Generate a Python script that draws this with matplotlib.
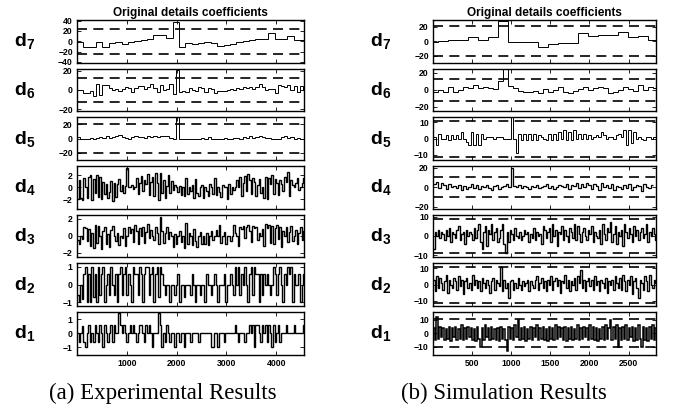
import numpy as np
import matplotlib
matplotlib.use('Agg')
import matplotlib.pyplot as plt

plt.rcParams['font.family'] = ['Liberation Sans', 'DejaVu Sans']
plt.rcParams['font.weight'] = 'bold'
plt.rcParams['mathtext.fontset'] = 'custom'
plt.rcParams['mathtext.bf'] = 'Liberation Sans:bold'
plt.rcParams['mathtext.rm'] = 'Liberation Sans:bold'

# ---- (a) Experimental results: detail coefficients d7 ... d1 ----
exp_d7 = [-2, -12, -12, -1, -12, -3, -2, -5, -1, 0, 2, 4, 12, 12, 7, 38,
          -12, -3, -6, -4, -2, -3, -10, -7, -5, -2, 1, 3, 4, 5, 15, 5, 4, 10, 3, 2]
exp_d6 = [0, 0, -3, -3, -1, -6, 6, -5, 5, 5, 2, 0, 1, -1, 1, 3, 2, -2, 2, 4, 4, 1, 3, 6,
          2, -2, 5, 0, 1, 6, -4, 21, -2, -1, -2, 2, 0, -1, 3, 2, -2, 2, 1, -3, -1, -1, -1, 0,
          1, 0, 2, 1, 3, 2, 3, 1, 3, 6, 3, 0, 1, 1, -3, 5, 4, 3, 5, 0, 4, -2, 4, 0]
exp_d5 = [2, 0, 0, -1, 1, 0, 1, 2, 1, 3, 1, 2, 3, 5, 2, 1, 0, 2, 3, 2, 2, 1, 3, 2,
          3, 2, 4, 3, 4, 1, 0, 30, -1, 0, -1, 0, 0, -1, 0, 1, 0, 2, 0, -1, 0, 0, 1, 0,
          -1, 1, 1, 0, 2, 1, 3, 1, 2, 3, 2, 1, 1, 0, 0, 0, 2, 3, 1, 2, 0, 1, 0, 0]
exp_d4 = [-2.0, 1.2, -1.8, -2.1, 1.6, 0, -1.9, 1.8, 2.0, -2.2, 1.4, -1.0, 2.1, -1.6, 1.8, -2.0, 0.9, -1.2, 0.6, -1.9, -0.8, 1.1, -2.3, 0.7,
          -1.7, 0.5, 1.4, -0.6, 0.3, -1.0, 0.2, 3.2, 0, 0, 0.4, -0.3, 0, 1.5, -1.1, 0.8, 1.9, -0.7, 1.3, 0.6, 2.2, -1.3, 0.9, 1.8,
          -1.5, 2.5, 0.7, -2.2, 2.4, -0.9, 1.3, -1.8, 0.2, 2.0, -1.0, 1.1, -0.5, 0.3, 0, -0.8, 0.2, -1.3, 0, -1.5, 1.6, -1.2, 0, -0.6,
          0.4, -1.8, 1.4, -1.0, -1.5, 0, 0.3, -1.9, 0, -0.7, -1.4, 0.5, 0, -1.1, 1.6, -1.3, 0, -0.8, -1.6, 0.4, 0, 0, -2.0, 0.6,
          -1.2, 0, -0.5, 0, 1.3, 0, 1.7, -1.4, 0.8, 1.9, -0.6, 2.3, 1.2, -1.1, 1.6, 0.9, -1.5, 0.3, 1.4, -0.9, 0, -1.8, 1.7, -2.0,
          1.5, 0.6, 2.0, -1.1, 1.4, 0.8, -1.3, 1.2, 0.5, -0.6, 1.7, 0.9, 2.6, -1.4, 1.3, 0.4, 0, 0.7, 1.6, -0.5, 0, 0.8, 1.5, 0.2]
exp_d3 = [-0.5, -1.0, 0, -0.4, 1.1, 0.9, -0.6, 0.8, -1.2, 0.3, -1.4, 1.3, -0.8, 1.2, 0, -1.5, 0.6, 1.1, -0.9, 0.2, -1.3, 0.7, 1.2, 0,
          -0.6, 0.4, -1.1, 0, -0.3, 0.9, -1.2, 0, 1.1, 0.4, 0.8, -0.7, 1.3, 0.6, -1.0, 0.9, 0, 1.1, -0.8, 0.5, 1.4, -0.2, 0.7, 0,
          -0.5, 1.0, 0.4, -1.0, 2.2, 0.6, -0.8, 0.3, 1.0, -0.4, 0.5, 0, -1.3, 0.2, -1.0, 0, 0.6, -0.7, 0, -1.4, 1.5, -1.0, 0.4, 0,
          -1.1, 0.8, -0.6, -1.3, 0, 0.5, -1.0, 0, -0.9, 0.3, -1.1, 0, 0.6, -0.5, 0, 0.7, 0, 1.3, -0.8, 0, 0.5, -1.0, 0, 0, -0.6, 0,
          1.3, 0.4, 0, -1.2, 1.1, 0.8, 1.2, -0.3, 1.0, 1.3, 0.6, -0.7, 1.2, 0.9, 1.1, -0.5, 0.4, 0, 0.8, -1.2, 1.4, 0.9, 1.3, -0.8,
          1.2, -1.0, 0.9, 1.3, -0.4, 1.1, -1.3, 0.6, 0, 1.0, -0.7, 0.5, 1.2, -0.6, 0, 0.7, -0.9, 0.3, 1.0, -0.5, 0.6, 0, -0.4, 0]
exp_d2 = [-0.6, -1, 0, -0.8, 0.6, 1, -1, 0.6, -1, 1, -0.7, 0.6, -1, 1, -0.6, 0.6, 1, -1, 0, 0.6, -0.6, 1, 0, -0.6,
          0.6, -1, 0.6, 1, -0.6, 0.6, 1, -0.6, 0.6, 0, -1, 1, 0.6, 0.6, -0.6, 1, 0.6, -1, 0.6, 1, 1, -0.6, 0.6, 1,
          -1, 0.6, 1, -0.7, 1, 0.6, 0, -0.6, 0, 0, -1, 0, 0, -0.6, 0, 0.6, -1, 0, 0, -0.7, 0, 0, 0, -0.6,
          0.6, 0, -1, 0, 0, -0.6, 0, 0, -1, 0.6, 0, 0, -0.6, 0, 0.6, 0, -1, 0, 0, 0, 0.6, -1, 0, 0,
          0.6, 0, -0.6, 1, 0, 1, -0.6, 0.6, 0, 1, 0, -1, 0.6, 1, -0.6, 1, 0.6, 0.6, -1, 0.6, -0.6, 0.6, 0, 0.6,
          0, -0.6, 0, 1, 0.6, -0.6, 0.6, 1, 0, -1, 0.6, 0, 1, 0.6, 1, -1, 0.6, 0, 0, 0.6, -1, 0, 0.6, 0]
exp_d1 = [0, -0.6, 0, 0.5, -0.6, -1, 0, 0.6, -0.6, 0, -0.6, 0.6, 0, -0.6, 0.6, 0, -1, 0.6, 0, -0.6, 0, 0.6, -0.6, 0.6,
          0, 0, 1.4, 0.6, 0, 0.6, 0, -0.6, 0, 0.6, 0, 0.6, 0, -0.6, 0, 0.6, 0.6, 0, -0.6, 0.6, 0, 0.6, 0, -1,
          0, 0, 0, 1.4, 0.6, -1, 0, -0.6, 0.6, 0, -0.6, 0, 0, -1, 0, 0, -0.6, 0, 0, -1, 0, 0, 0, -0.6,
          0, 0, 0, 0, -0.6, 0, 0, 0, 0, 0, 0, 0, -1, -1, 0, 0, -1, 0, 0, 0, -0.6, 0, 0, 0,
          0, 0, 0, 0.6, 0, -0.6, 0, 0, 0, -0.6, 0, 0, 0.6, 0, 0.6, -1, 0.6, 0.6, 0, -0.6, 0.6, 0, 0.6, -0.6,
          0.6, 0, -1, 0.6, -0.6, 0, 0.6, -0.6, 0, 0, 0, 0.6, 0, 0, 0, 0, 0.6, 0, 0, 0, 0, 0, 0.6, 0]

# ---- (b) Simulation results ----
sim_d7 = [-1, 1, 2, 2, 6, 2, 6, 27, -1, -1, -1, -8, -4, -2, -2, 11, 7, 8, 8, 12, 6, 7, 2]
sim_d6 = [-3, 0, -2, 3, -3, 0, 3, 2, 6, 2, 3, 2, 1, 10, 27, 5,
          2, -1, -2, -3, -1, -4, 1, -3, 0, 4, -3, -4, -1, 1, 3, 0, 2, 3, 2, -4, -2, 0, 4, 1, -1, 6, 0, 3, 2]
sim_d5 = [1, -4, 3, 0, 0, 2, -1, 2, 0, 2, 0, 4, 0, -2, -4, 4, -4, 3, -4, 3, 0, 1, 1, 1, 0, 1, 1, 1, 0, 0,
          0, 13, 0, -9, 3, -1, 3, -1, 3, -1, 3, -1, 2, 1, 0, -1, 3, -1, 3, -1, 4, 0, 5, -1, 4, -1, 5, 0, 3, 0,
          3, 0, 2, 0, 1, 2, 1, 4, 2, 0, 1, 1, 0, 2, 3, 1, 5, -4, 5, -3, 4, 0, 1, 0, -1, 1, 1, 0, 1]
sim_d4 = [3, 5, -1, 4, 2, -2, 3, 0, 1, -1, 2, -3, 1, -2, 0, 3, -1, 2, -2, 1, 0, 2, -1, -3, 1, 2, -2, 0, 1, 3, 0, 20,
          1, 0, 2, -1, 1, 0, -2, 1, 0, 2, -1, 0, 1, 3, -1, 1, -2, 0, 2, 1, 0, 3, -2, 2, 1, 4, -1, 3, 0, 4, 2,
          -2, 3, 1, -3, 4, 0, 2, -1, 3, -3, 1, 0, -2, 2, -1, 3, -3, 0, 2, 1, -4, 3, 0, -1, 2]
sim_d3 = [-7, 2, 0, 3, -1, 2, 1, -2, 3, 0, 4, -3, 2, 1, -1, 3, 5, -2, 1, 2, -4, 3, 0, 2,
          1, -2, 4, -1, 3, 6, -3, -7, 2, 5, -5, 3, 1, 6, -2, 2, 4, -3, -1, 3, 6, -4, -9, 2,
          -3, 3, 1, -2, 4, 0, -1, 2, -2, 0, 3, 1, 2, -3, 1, -1, 4, -2, 2, 0, 1, -4, 5, 3,
          -1, 2, 4, -3, 6, 0, 3, -5, 2, 1, 5, -2, 3, 0, -3, 4, 2, -1, 6, -2, 5, 1, -3, 2,
          4, 0, -2, 3, 1, 5, -3, 2, 0, -1, 3, -4, 6, 1, -2, 4, 2, 7, -3, 1, 5, -4, 2, 0,
          3, -5, 6, 2, -1, 4, 1, -3, 5, 0, 3, -2, 2, 4, -1, 1, 6, -3, 2, 0, 4, 1, -2, 0]
sim_d2 = [3, -4, 5, -2, 4, 1, -3, 2, 6, -5, 3, 0, -2, 4, 2, -3, 5, -1, 3, -6, 2, 4, -2, 1,
          -3, 6, 0, 3, -2, 2, -4, 4, 1, -2, 3, 0, -5, 2, 4, -3, 3, 1, -1, 11, -4, 3, -2, 1,
          -8, 2, 3, -3, 1, -2, 4, 0, -3, 2, -1, 1, 3, -4, 2, 0, -2, 3, 5, -3, 1, 4, -2, 2,
          -4, 3, 0, 5, -3, 2, 4, -1, 3, -5, 2, 1, 6, -2, 3, -4, 2, 0, 4, -3, 5, 1, 9, -2,
          3, -4, 2, 4, -1, 3, -3, 5, 0, 2, -4, 3, 1, -2, 4, -5, 2, 0, 3, -3, 5, 1, -2, 4,
          -3, 6, 2, -4, 3, 0, 5, -6, 2, 4, -2, -8, 3, 1, -3, 5, 2, -4, 6, 0, -2, 3, 1, -3]
sim_d1 = [4, -5, 12, -4, 5, -3, 4, -5, 3, -4, 5, -6, 4, -3, 5, -5, 3, -4, 6, -5, 4, -4, 5, -3,
          4, -5, 3, -6, 5, -4, -10, 4, -5, 6, -3, 4, -5, 5, -4, 3, -5, 4, -6, 5, -4, 3, -5, -13,
          5, -4, 4, -5, 6, -3, 10, -5, 4, -4, 5, -6, 3, -4, 5, -5, 4, -3, 6, -5, 4, -4, 5, -5,
          3, -6, 5, -4, 4, -5, 6, -4, 5, -3, 4, -5, 5, -6, 4, -4, 5, -5, 3, -4, 6, -5, 4, -4,
          5, -3, 4, -5, 6, -4, 5, -5, 4, -6, 3, -4, 5, -5, 6, -4, 4, 10, -5, 5, -4, 6, -10, 4,
          -5, 5, -4, 6, -5, 4, -3, 5, -6, 4, -5, 6, -4, -10, 5, -5, 4, -6, 5, -4, 6, -5, 4, -5]

# thresholds (dashed lines); None = outside the plotted range
exp_thr = [24, 12.5, 20, None, None, None, None]
sim_thr = [20.5, 13, 11, 10.5, 9, 11, 10.5]

# panel settings: (data, step width, offset, ylim, yticks, line width)
exp_rows = [
    (exp_d7, 128, 0, 41, [-40, -20, 0, 20, 40], 0.7),
    (exp_d6, 64, 0, 22, [-20, 0, 20], 0.7),
    (exp_d5, 64, 0, 30, [-20, 0, 20], 0.7),
    (exp_d4, 32, 0, 3.6, [-2, 0, 2], 1.0),
    (exp_d3, 32, 0, 2.5, [-2, 0, 2], 1.0),
    (exp_d2, 32, 0, 1.2, [-1, 0, 1], 1.0),
    (exp_d1, 32, 0, 1.5, [-1, 0, 1], 1.0),
]
sim_rows = [
    (sim_d7, 128, -64, 29, [-20, 0, 20], 0.7),
    (sim_d6, 64, 0, 25, [-20, 0, 20], 0.7),
    (sim_d5, 32, 0, 13, [-10, 0, 10], 0.7),
    (sim_d4, 32, 0, 22, [-20, 0, 20], 0.9),
    (sim_d3, 20, 0, 11, [-10, 0, 10], 1.0),
    (sim_d2, 20, 0, 13, [-10, 0, 10], 1.0),
    (sim_d1, 20, 0, 16, [-10, 0, 10], 1.1),
]

W, H = 673, 412
fig = plt.figure(figsize=(W / 100, H / 100), dpi=100)


def panel(rows, thr, x0, x1, xmax, xticks, label_x, title_x, caption, cap_x):
    for i, (vals, width, off, ylim, yt, lw) in enumerate(rows):
        top = 20 + 48.67 * i
        ax = fig.add_axes([x0 / W, 1 - (top + 42.5) / H, (x1 - x0) / W, 42.5 / H])
        edges = np.arange(len(vals) + 1) * width + off
        ax.stairs(vals, edges, baseline=None, color='k', lw=lw)
        if thr[i] is not None:
            for s in (1, -1):
                ax.axhline(s * thr[i], color='k', lw=1.2, ls=(0, (6, 3.8)))
        ax.set_xlim(0, xmax)
        ax.set_ylim(-ylim, ylim)
        ax.set_yticks(yt)
        ax.set_xticks(xticks)
        ax.tick_params(direction='in', top=True, right=True, length=3, width=0.6,
                       labelsize=6.2, pad=3)
        if i < 6:
            ax.set_xticklabels([])
        for sp in ax.spines.values():
            sp.set_linewidth(1.0)
        k = 7 - i
        fig.text(label_x / W, 1 - (top + 27) / H, r'$\mathbf{d}_\mathbf{%d}$' % k,
                 fontsize=14, ha='left', va='baseline')
        if i == 0:
            fig.text(title_x / W, 1 - 13 / H, 'Original details coefficients',
                     fontsize=8.5, ha='center', va='center')
    fig.text(cap_x / W, 1 - 393 / H, caption, fontsize=16.5, fontweight='normal',
             family='Liberation Serif', ha='center', va='center')


panel(exp_rows, exp_thr, 77, 304, 4560, [1000, 2000, 3000, 4000], 14, 190.5,
      '(a) Experimental Results', 162.5)
panel(sim_rows, sim_thr, 433, 656, 2850, [500, 1000, 1500, 2000, 2500], 370, 544.5,
      '(b) Simulation Results', 504)

fig.savefig('out.png', dpi=100)
